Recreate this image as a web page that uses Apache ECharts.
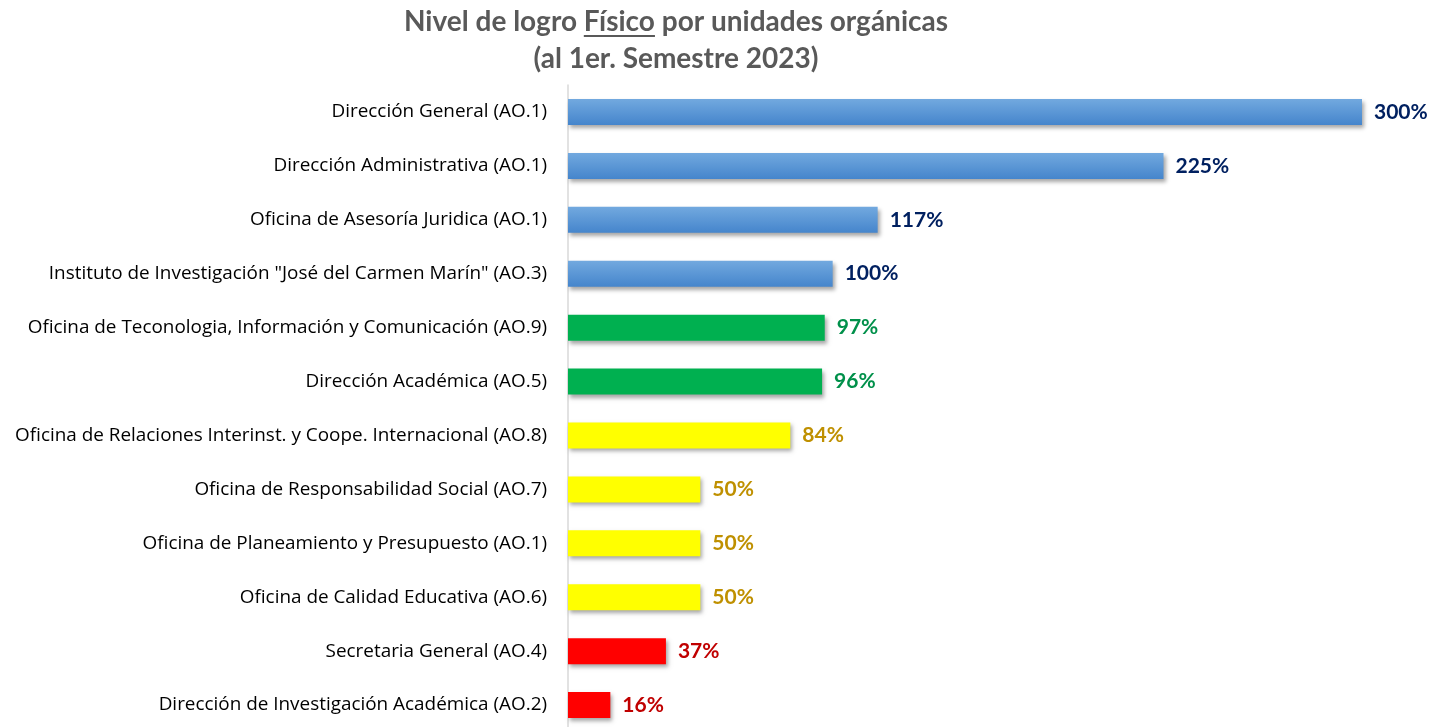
<!DOCTYPE html>
<html>
<head>
<meta charset="utf-8">
<title>Nivel de logro Físico</title>
<script src="https://cdn.jsdelivr.net/npm/echarts@6/dist/echarts.min.js"></script>
<style>
  html, body { margin: 0; padding: 0; background: #fff; }
  #chart { width: 1432px; height: 727px; }
</style>
</head>
<body>
<div id="chart"></div>
<script>
// unidades, de arriba hacia abajo
var unidades = [
  'Dirección General (AO.1)',
  'Dirección Administrativa (AO.1)',
  'Oficina de Asesoría Juridica (AO.1)',
  'Instituto de Investigación "José del Carmen Marín" (AO.3)',
  'Oficina de Teconologia, Información y Comunicación (AO.9)',
  'Dirección Académica (AO.5)',
  'Oficina de Relaciones Interinst. y Coope. Internacional (AO.8)',
  'Oficina de Responsabilidad Social (AO.7)',
  'Oficina de Planeamiento y Presupuesto (AO.1)',
  'Oficina de Calidad Educativa (AO.6)',
  'Secretaria General (AO.4)',
  'Dirección de Investigación Académica (AO.2)'
]
var logro = [300, 225, 117, 100, 97, 96, 84, 50, 50, 50, 37, 16]

var titulo1a = 'Nivel de logro '
var titulo1b = 'Físico'
var titulo1c = ' por unidades orgánicas'
var titulo2 = '(al 1er. Semestre 2023)'

// semaforo segun nivel de logro
function nivel(v) {
  if (v >= 100) return 'azul'
  if (v >= 90) return 'verde'
  if (v >= 50) return 'amarillo'
  return 'rojo'
}
var barColor = {
  azul: new echarts.graphic.LinearGradient(0, 0, 0, 1, [
    { offset: 0, color: '#72a9df' },
    { offset: 1, color: '#4585cc' }
  ]),
  verde: '#00b050',
  amarillo: '#ffff00',
  rojo: '#ff0000'
}
var labelColor = {
  azul: '#002060',
  verde: '#00904a',
  amarillo: '#bf9000',
  rojo: '#c00000'
}

// medir el titulo para colocar el subrayado de "Físico"
var tituloFont = 'bold 28px Lato'
var ctx = document.createElement('canvas').getContext('2d')
ctx.font = tituloFont
var wA = ctx.measureText(titulo1a).width
var wB = ctx.measureText(titulo1b).width
var wTotal = ctx.measureText(titulo1a + titulo1b + titulo1c).width
var centroX = 676
var subX = centroX - wTotal / 2 + wA

var myChart = echarts.init(document.getElementById('chart'))

var options = {
  backgroundColor: '#fff',
  animation: false,
  title: {
    text: '{a|' + titulo1a + titulo1b + titulo1c + '}\n{a|' + titulo2 + '}',
    left: centroX,
    textAlign: 'center',
    top: 3,
    padding: 0,
    textStyle: {
      rich: {
        a: {
          fontFamily: 'Lato',
          fontWeight: 'bold',
          fontSize: 28,
          color: '#595959',
          lineHeight: 37
        }
      }
    }
  },
  graphic: [
    {
      // subrayado de "Físico"
      type: 'line',
      shape: { x1: subX, y1: 36, x2: subX + wB, y2: 36 },
      style: { stroke: '#595959', lineWidth: 2 }
    }
  ],
  grid: {
    left: 568,
    right: 70,
    top: 85,
    height: 647,
    outerBoundsMode: 'none'
  },
  xAxis: {
    type: 'value',
    min: 0,
    max: 300,
    show: false
  },
  yAxis: {
    type: 'category',
    inverse: true,
    data: unidades,
    axisTick: { show: false },
    axisLine: {
      show: true,
      lineStyle: { color: '#d9d9d9', width: 1.5 }
    },
    axisLabel: {
      margin: 21,
      fontFamily: 'Open Sans',
      fontSize: 18.9,
      color: '#000'
    }
  },
  series: [
    {
      type: 'bar',
      barWidth: 26,
      data: logro.map(function (v) {
        var n = nivel(v)
        return {
          value: v,
          itemStyle: {
            color: barColor[n],
            shadowColor: 'rgba(0,0,0,0.35)',
            shadowBlur: 4,
            shadowOffsetX: 2,
            shadowOffsetY: 3
          },
          label: { color: labelColor[n] }
        }
      }),
      label: {
        show: true,
        position: 'right',
        distance: 12,
        fontFamily: 'Lato',
        fontWeight: 'bold',
        fontSize: 21,
        formatter: '{c}%'
      }
    }
  ]
}

myChart.setOption(options)
</script>
</body>
</html>
